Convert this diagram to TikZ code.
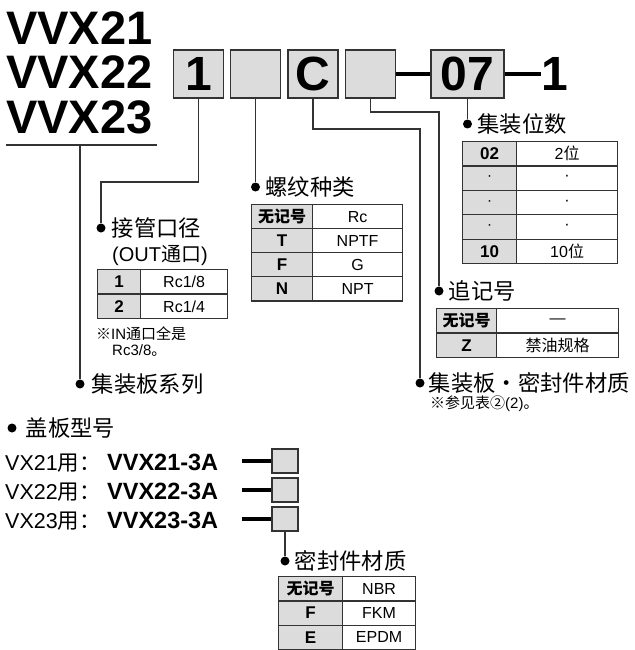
\documentclass[tikz,border=0pt]{standalone}
\usepackage{fontspec}
\setmainfont{Liberation Sans}
\newfontfamily\cjk{Noto Sans CJK SC}
\usetikzlibrary{positioning}

\definecolor{boxgray}{HTML}{DCDCDC}
\definecolor{boxline}{HTML}{333333}

\tikzset{
  lead/.style={line width=1.3pt, color=boxline},
  bar/.style={line width=4.5pt, color=black},
  leaddot/.style={circle, fill=black, inner sep=0pt, minimum size=9pt},
  capt/.style={inner sep=0pt, font=\cjk\fontsize{22.3}{22.3}\selectfont},
  title/.style={inner sep=0pt, anchor=base west, font=\fontsize{47}{47}\selectfont\bfseries},
  codebox/.style={draw=boxline, fill=boxgray, line width=1.3pt, minimum width=50pt,
    minimum height=48pt, inner sep=0pt, font=\fontsize{48}{48}\selectfont\bfseries},
  smallbox/.style={draw=boxline, fill=boxgray, line width=1.3pt, minimum width=26pt,
    minimum height=24pt, inner sep=0pt},
  keycell/.style={draw=boxline, fill=boxgray, line width=1.2pt, minimum height=24.4pt,
    inner sep=0pt, anchor=north west, font=\fontsize{17}{17}\selectfont\bfseries},
  valcell/.style={draw=boxline, fill=white, line width=1.2pt, minimum height=24.4pt,
    inner sep=0pt, anchor=north west, font=\fontsize{16}{16}\selectfont},
  note/.style={inner sep=0pt, anchor=west, font=\fontsize{15}{15}\selectfont},
  vxtext/.style={inner sep=0pt, anchor=base west, font=\fontsize{21.5}{21.5}\selectfont},
  vxbold/.style={inner sep=0pt, anchor=base west, font=\fontsize{23.5}{23.5}\selectfont\bfseries}
}

\newcommand{\nomark}{{\cjk\fontsize{16}{16}\selectfont 无记号}}
\newcommand{\gapdot}{{\mdseries\fontsize{15}{15}\selectfont ·}}

\begin{document}
\begin{tikzpicture}[x=1pt,y=-1pt]
\useasboundingbox (0,0) rectangle (634,650);

% series
\node[title] (t1) at (6,45) {VVX21};
\node[title] (t2) at (6,89) {VVX22};
\node[title] (t3) at (6,134) {VVX23};
\coordinate (ul1) at (6,145);
\coordinate (ul2) at (157,145);
\coordinate (ulm) at (80,145);
\draw[lead] (ul1) -- (ul2);

% code boxes
\node[codebox] (b1) at (198.5,74) {1};
\node[codebox] (b2) at (255.5,74) {};
\node[codebox] (b3) at (313,74) {C};
\node[codebox] (b4) at (370.5,74) {};
\node[codebox, minimum width=73pt] (b5) at (467.5,74) {07};
\node[inner sep=0pt, anchor=west, font=\fontsize{48}{48}\selectfont\bfseries] (tail) at (541,74) {1};
\draw[bar] (b4.east) -- (b5.west);
\draw[bar] (b5.east) -- (tail.west);

% dots and captions
\node[leaddot] (d1) at (101,228) {};
\node[leaddot] (d2) at (255.5,187) {};
\node[leaddot] (d3) at (420,383) {};
\node[leaddot] (d4) at (439,291) {};
\node[leaddot] (d5) at (467.5,124) {};
\node[leaddot] (d6) at (80,384) {};
\node[leaddot] (d7) at (12,428) {};
\node[leaddot] (d8) at (285,561) {};

\node[capt, right=6pt of d1] (c1) {接管口径};
\node[capt, right=5pt of d2] (c2) {螺纹种类};
\node[capt, right=4pt of d3] (c3) {集装板・密封件材质};
\node[capt, right=5pt of d4] (c4) {追记号};
\node[capt, right=5pt of d5] (c5) {集装位数};
\node[capt, right=7pt of d6] (c6) {集装板系列};
\node[capt, right=9pt of d7] (c7) {盖板型号};
\node[capt, right=5pt of d8] (c8) {密封件材质};

% leads
\draw[lead] (b1.south) -- (b1.south |- 0,182) -| (d1);
\draw[lead] (b2.south) -- (d2);
\draw[lead] (b3.south) -- (b3.south |- 0,129) -| (d3);
\draw[lead] (b4.south) -- (b4.south |- 0,112) -| (d4);
\draw[lead] (b5.south) -- (d5);
\draw[lead] (ulm) -- (d6);

% port size
\node[inner sep=0pt, anchor=west, font=\fontsize{20}{20}\selectfont] (c1b) at (112,255) {(OUT{\cjk 通口})};
\foreach \k/\v [count=\i from 0] in {1/{Rc1/8},2/{Rc1/4}}
{
\node[keycell, minimum width=43pt] (pk\i) at (97,{269+24.5*\i}) {\k};
\node[valcell, minimum width=87pt] (pv\i) at (140,{269+24.5*\i}) {\v};
}
\node[note] (n1) at (96,334) {{\cjk ※}IN{\cjk 通口全是}};
\node[note] (n2) at (112,351) {Rc3/8{\cjk 。}};

% thread
\foreach \k/\v [count=\i from 0] in {\nomark/Rc,T/NPTF,F/G,N/NPT}
{
\node[keycell, minimum width=61pt] (tk\i) at (251,{204+24*\i}) {\k};
\node[valcell, minimum width=90pt] (tv\i) at (312,{204+24*\i}) {\v};
}

% stations
\foreach \k/\v [count=\i from 0] in {02/{2{\cjk 位}},\gapdot/·,\gapdot/·,\gapdot/·,10/{10{\cjk 位}}}
{
\node[keycell, minimum width=54pt] (sk\i) at (462,{141+24.4*\i}) {\k};
\node[valcell, minimum width=101pt] (sv\i) at (516,{141+24.4*\i}) {\v};
}

% option
\foreach \k/\v [count=\i from 0] in {\nomark/—,Z/{{\cjk 禁油规格}}}
{
\node[keycell, minimum width=60pt] (ok\i) at (436,{308+24.5*\i}) {\k};
\node[valcell, minimum width=122pt] (ov\i) at (496,{308+24.5*\i}) {\v};
}
\node[note] (n3) at (430,404) {{\cjk ※参见表②}(2){\cjk 。}};

% end plates
\foreach \y/\m [count=\i] in {461/1,490/2,519/3}
{
\node[vxtext] (v\i) at (5,{\y+9}) {VX2\m{\cjk 用：}};
\node[vxbold] (w\i) at (107,{\y+9}) {VVX2\m-3A};
\node[smallbox] (s\i) at (285,\y) {};
\coordinate (e\i) at (242,\y);
\draw[bar] (e\i) -- (s\i.west);
}
\draw[lead] (s3.south) -- (d8);

% seal
\foreach \k/\v [count=\i from 0] in {\nomark/NBR,F/FKM,E/EPDM}
{
\node[keycell, minimum width=64pt] (ek\i) at (278,{576+24.3*\i}) {\k};
\node[valcell, minimum width=73pt] (ev\i) at (342,{576+24.3*\i}) {\v};
}
\end{tikzpicture}
\end{document}
